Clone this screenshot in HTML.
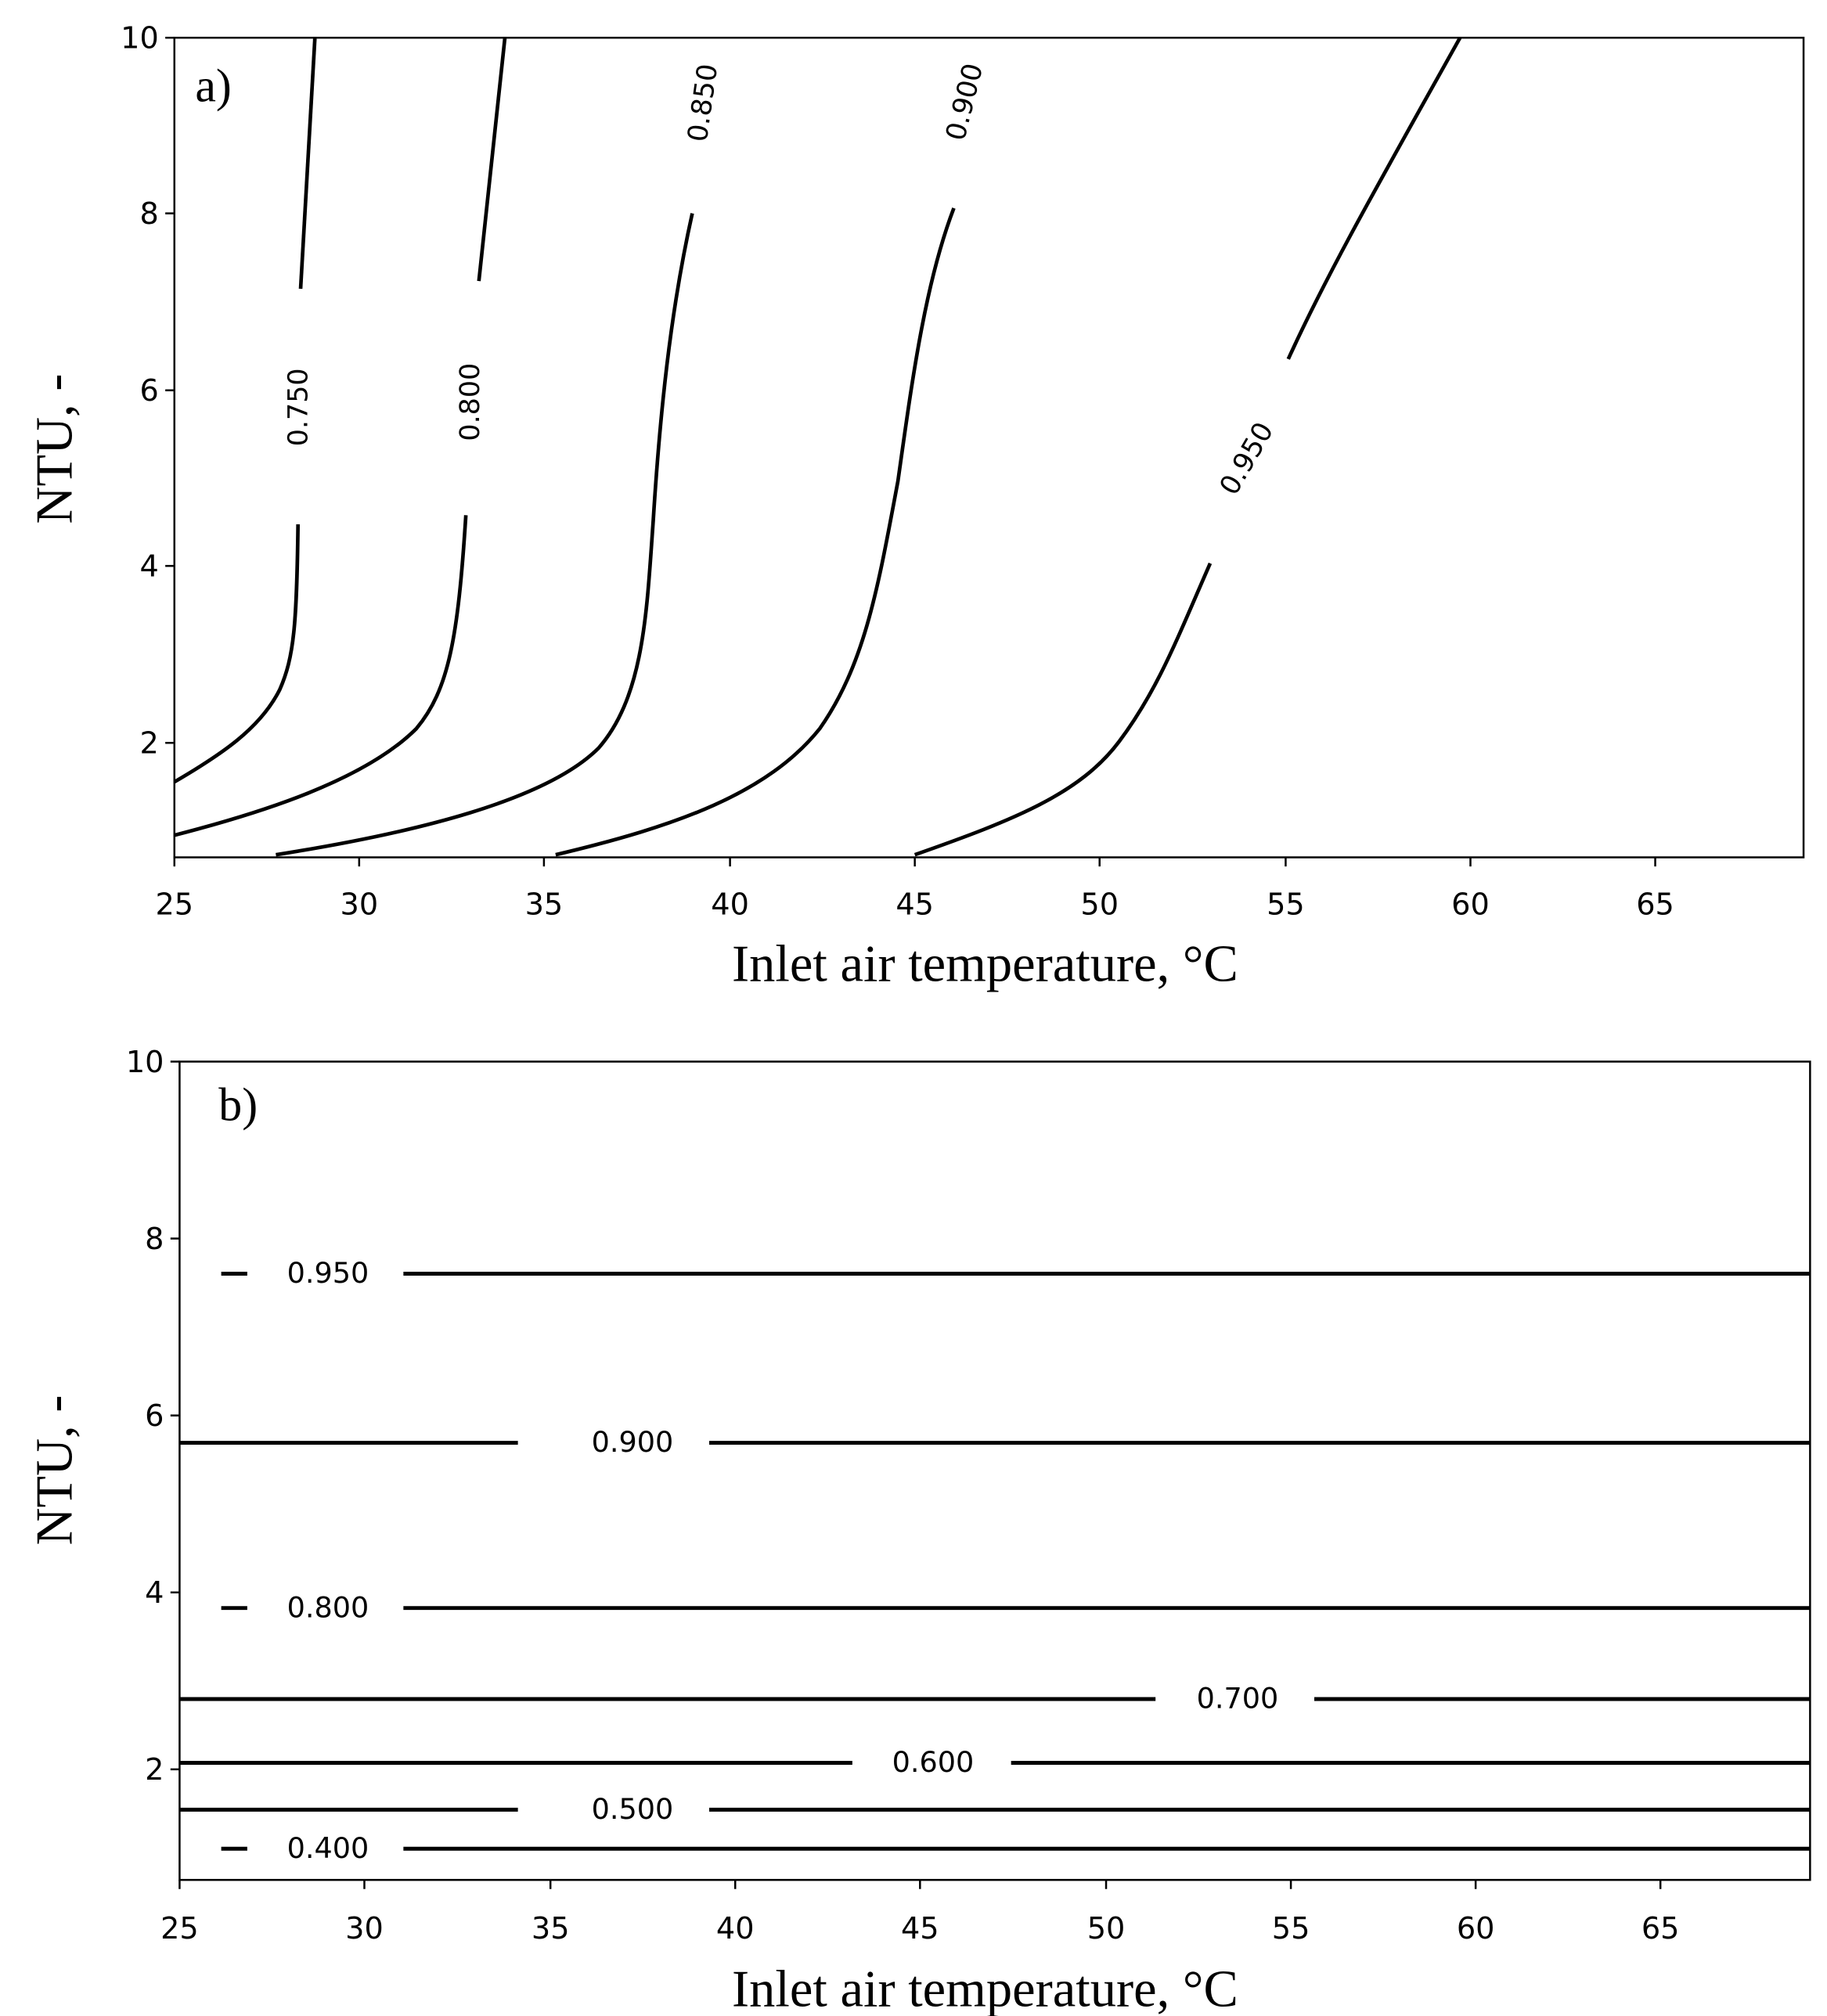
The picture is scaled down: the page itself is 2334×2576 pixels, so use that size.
<!DOCTYPE html>
<html><head><meta charset="utf-8"><style>html,body{margin:0;padding:0;background:#fff}svg{display:block}</style></head>
<body>
<svg width="2334" height="2576" viewBox="0 0 1404 1549.6" xmlns="http://www.w3.org/2000/svg">
<rect width="1404" height="1549.6" fill="#fff"/>
<g font-family="DejaVu Sans, sans-serif" font-size="23" fill="#000">
<!-- Panel a -->
<rect x="134" y="29" width="1252" height="630" fill="none" stroke="#000" stroke-width="1.5"/>
<g stroke="#000" stroke-width="1.5">
<line x1="134" y1="659" x2="134" y2="666"/><line x1="276" y1="659" x2="276" y2="666"/><line x1="418" y1="659" x2="418" y2="666"/><line x1="561" y1="659" x2="561" y2="666"/><line x1="703" y1="659" x2="703" y2="666"/><line x1="845" y1="659" x2="845" y2="666"/><line x1="988" y1="659" x2="988" y2="666"/><line x1="1130" y1="659" x2="1130" y2="666"/><line x1="1272" y1="659" x2="1272" y2="666"/>
<line x1="127" y1="29" x2="134" y2="29"/><line x1="127" y1="164" x2="134" y2="164"/><line x1="127" y1="300" x2="134" y2="300"/><line x1="127" y1="435" x2="134" y2="435"/><line x1="127" y1="571" x2="134" y2="571"/>
</g>
<g text-anchor="middle"><text x="134" y="703">25</text><text x="276" y="703">30</text><text x="418" y="703">35</text><text x="561" y="703">40</text><text x="703" y="703">45</text><text x="845" y="703">50</text><text x="988" y="703">55</text><text x="1130" y="703">60</text><text x="1272" y="703">65</text></g>
<g text-anchor="end"><text x="122" y="37">10</text><text x="122" y="172">8</text><text x="122" y="308">6</text><text x="122" y="443">4</text><text x="122" y="579">2</text></g>
<g fill="none" stroke="#000" stroke-width="2.8">
<path d="M134,601 C170,580 200,560 215,530 C226,505 228,480 229,403"/>
<path d="M231,222 L242,29"/>
<path d="M134,642 C200,625 280,600 320,560 C345,530 352,490 358,396"/>
<path d="M368,216 L388,29"/>
<path d="M212,657 C320,640 420,615 460,575 C495,535 497,470 502,400 C507,320 515,240 532,164"/>
<path d="M427,657 C520,635 590,610 630,560 C665,510 675,450 690,370 C700,300 710,220 733,160"/>
<path d="M703,657 C780,630 830,610 860,570 C890,530 905,490 930,433"/>
<path d="M990,276 C1020,210 1060,140 1122,29"/>
</g>
<g font-size="21">
<text transform="translate(236,313) rotate(-90)" text-anchor="middle">0.750</text>
<text transform="translate(368,309) rotate(-90)" text-anchor="middle">0.800</text>
<text transform="translate(547,80) rotate(-82)" text-anchor="middle">0.850</text>
<text transform="translate(748,80) rotate(-76)" text-anchor="middle">0.900</text>
<text transform="translate(964,356) rotate(-60)" text-anchor="middle">0.950</text>
</g>
<text x="150" y="78" font-family="Liberation Serif, serif" font-size="36">a)</text>
<text x="757" y="754" text-anchor="middle" font-family="Liberation Serif, serif" font-size="40">Inlet air temperature, °C</text>
<text transform="translate(55,345) rotate(-90)" text-anchor="middle" font-family="Liberation Serif, serif" font-size="40">NTU, -</text>

<!-- Panel b -->
<rect x="138" y="816" width="1253" height="629" fill="none" stroke="#000" stroke-width="1.5"/>
<g stroke="#000" stroke-width="1.5">
<line x1="138" y1="1445" x2="138" y2="1452"/><line x1="280" y1="1445" x2="280" y2="1452"/><line x1="423" y1="1445" x2="423" y2="1452"/><line x1="565" y1="1445" x2="565" y2="1452"/><line x1="707" y1="1445" x2="707" y2="1452"/><line x1="850" y1="1445" x2="850" y2="1452"/><line x1="992" y1="1445" x2="992" y2="1452"/><line x1="1134" y1="1445" x2="1134" y2="1452"/><line x1="1276" y1="1445" x2="1276" y2="1452"/>
<line x1="131" y1="816" x2="138" y2="816"/><line x1="131" y1="952" x2="138" y2="952"/><line x1="131" y1="1088" x2="138" y2="1088"/><line x1="131" y1="1224" x2="138" y2="1224"/><line x1="131" y1="1360" x2="138" y2="1360"/>
</g>
<g text-anchor="middle"><text x="138" y="1490">25</text><text x="280" y="1490">30</text><text x="423" y="1490">35</text><text x="565" y="1490">40</text><text x="707" y="1490">45</text><text x="850" y="1490">50</text><text x="992" y="1490">55</text><text x="1134" y="1490">60</text><text x="1276" y="1490">65</text></g>
<g text-anchor="end"><text x="126" y="824">10</text><text x="126" y="960">8</text><text x="126" y="1096">6</text><text x="126" y="1232">4</text><text x="126" y="1368">2</text></g>
<g stroke="#000" stroke-width="3">
<line x1="170" y1="979" x2="190" y2="979"/><line x1="310" y1="979" x2="1391" y2="979"/>
<line x1="138" y1="1109" x2="398" y2="1109"/><line x1="545" y1="1109" x2="1391" y2="1109"/>
<line x1="170" y1="1236" x2="190" y2="1236"/><line x1="310" y1="1236" x2="1391" y2="1236"/>
<line x1="138" y1="1306" x2="888" y2="1306"/><line x1="1010" y1="1306" x2="1391" y2="1306"/>
<line x1="138" y1="1355" x2="655" y2="1355"/><line x1="777" y1="1355" x2="1391" y2="1355"/>
<line x1="138" y1="1391" x2="398" y2="1391"/><line x1="545" y1="1391" x2="1391" y2="1391"/>
<line x1="170" y1="1421" x2="190" y2="1421"/><line x1="310" y1="1421" x2="1391" y2="1421"/>
</g>
<g font-size="22" text-anchor="middle">
<text x="252" y="986">0.950</text><text x="486" y="1116">0.900</text><text x="252" y="1243">0.800</text><text x="951" y="1313">0.700</text><text x="717" y="1362">0.600</text><text x="486" y="1398">0.500</text><text x="252" y="1428">0.400</text>
</g>
<text x="168" y="861" font-family="Liberation Serif, serif" font-size="36">b)</text>
<text x="757" y="1542" text-anchor="middle" font-family="Liberation Serif, serif" font-size="40">Inlet air temperature, °C</text>
<text transform="translate(55,1130) rotate(-90)" text-anchor="middle" font-family="Liberation Serif, serif" font-size="40">NTU, -</text>
</g>
</svg>
</body></html>
